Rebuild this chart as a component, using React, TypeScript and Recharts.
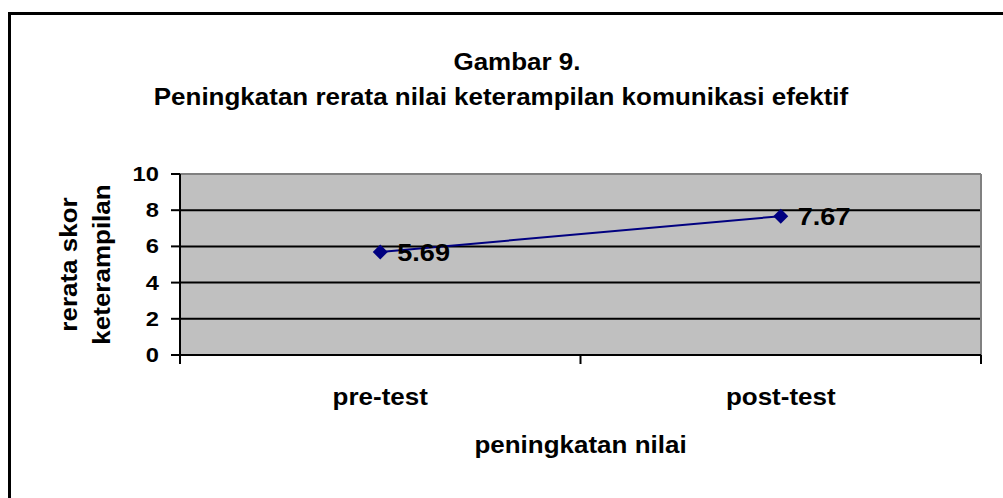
import React from 'react';
import {
  LineChart, Line, XAxis, YAxis, CartesianGrid, ReferenceLine, LabelList, Label,
} from 'recharts';

const categories = ['pre-test', 'post-test'];
const values = [5.69, 7.67];
const yTicks = [0, 2, 4, 6, 8, 10];
const xTicks = [0, 0.5, 1, 1.5, 2];

const FONT = '"Liberation Sans", Arial, sans-serif';
const SX = 1.13; // the original text looks a little wider than Arial

const data = categories.map((name, i) => ({ x: i + 0.5, name, value: values[i] }));

const Stretch = ({ x, y, size, anchor = 'start', rotate = 0, children }: any) => (
  <text
    transform={`translate(${x},${y}) rotate(${rotate}) scale(${SX},1)`}
    textAnchor={anchor}
    fontFamily={FONT}
    fontWeight="bold"
    fontSize={size}
    fill="#000"
  >
    {children}
  </text>
);

const YTick = ({ x, y, payload }: any) => (
  <Stretch x={x} y={y + 7} size={21} anchor="end">{payload.value}</Stretch>
);

const XTick = ({ x, y, payload }: any) => {
  const v = payload.value;
  if (Number.isInteger(v)) {
    return <line x1={x} x2={x} y1={y} y2={y + 9} stroke="#000" strokeWidth={2} />;
  }
  return (
    <Stretch x={x} y={y + 50} size={23} anchor="middle">
      {categories[Math.floor(v)]}
    </Stretch>
  );
};

const Diamond = ({ cx, cy }: any) => (
  <polygon
    points={`${cx},${cy - 7.5} ${cx + 7.5},${cy} ${cx},${cy + 7.5} ${cx - 7.5},${cy}`}
    fill="#000080"
  />
);

const ValueLabel = ({ x, y, value }: any) => (
  <Stretch x={x + 17} y={y + 9} size={24}>{value}</Stretch>
);

const YTitle = ({ viewBox }: any) => {
  const cy = viewBox.y + viewBox.height / 2;
  return (
    <g>
      <Stretch x={77} y={cy} size={23} anchor="middle" rotate={-90}>rerata skor</Stretch>
      <Stretch x={110} y={cy} size={23} anchor="middle" rotate={-90}>keterampilan</Stretch>
    </g>
  );
};

const XTitle = ({ viewBox }: any) => (
  <Stretch x={viewBox.x + viewBox.width / 2} y={viewBox.y + 98} size={23} anchor="middle">
    peningkatan nilai
  </Stretch>
);

export default function App() {
  return (
    <div style={{ position: 'absolute', left: 0, top: 0, width: 1003, height: 498, overflow: 'hidden', background: '#fff' }}>
      <div style={{ position: 'absolute', left: 8, top: 12, width: 1100, height: 600, border: '3px solid #000' }} />
      <svg width={1003} height={130} style={{ position: 'absolute', left: 0, top: 0 }}>
        <Stretch x={517} y={70} size={23} anchor="middle">Gambar 9.</Stretch>
        <Stretch x={501} y={105} size={23} anchor="middle">
          Peningkatan rerata nilai keterampilan komunikasi efektif
        </Stretch>
      </svg>
      <div style={{ position: 'absolute', left: 0, top: 0 }}>
        <LineChart width={1003} height={498} data={data} margin={{ top: 174, right: 22, bottom: 43, left: 120 }}>
          <CartesianGrid vertical={false} stroke="#000" strokeWidth={2} fill="#c0c0c0" fillOpacity={1} />
          <XAxis
            type="number"
            dataKey="x"
            domain={[0, 2]}
            ticks={xTicks}
            interval={0}
            tick={<XTick />}
            tickLine={false}
            tickSize={0}
            tickMargin={0}
            height={100}
            axisLine={{ stroke: '#000', strokeWidth: 2 }}
          >
            <Label content={<XTitle />} />
          </XAxis>
          <YAxis
            domain={[0, 10]}
            ticks={yTicks}
            interval={0}
            width={60}
            tick={<YTick />}
            tickSize={9}
            tickMargin={12}
            tickLine={{ stroke: '#000', strokeWidth: 2 }}
            axisLine={{ stroke: '#000', strokeWidth: 2 }}
          >
            <Label content={<YTitle />} />
          </YAxis>
          <ReferenceLine y={10} stroke="#808080" strokeWidth={2} />
          <ReferenceLine x={2} stroke="#808080" strokeWidth={2} />
          <Line
            dataKey="value"
            stroke="#000080"
            strokeWidth={2}
            dot={<Diamond />}
            activeDot={false}
            isAnimationActive={false}
          >
            <LabelList dataKey="value" content={<ValueLabel />} />
          </Line>
        </LineChart>
      </div>
    </div>
  );
}
